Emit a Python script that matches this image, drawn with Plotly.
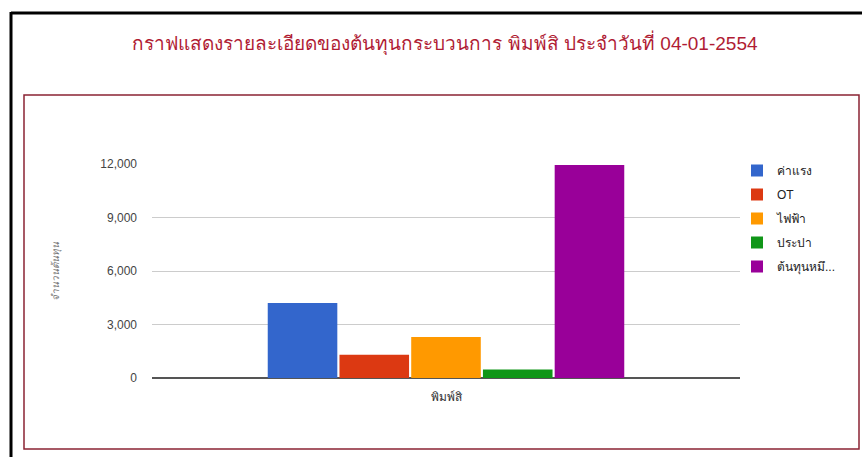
import plotly.graph_objects as go

# Cost breakdown for one process on a single day
category = ["พิมพ์สิ"]
series_names = ["ค่าแรง", "OT", "ไฟฟ้า", "ประปา", "ต้นทุนหมึ..."]
series_values = [4200, 1300, 2300, 480, 11950]
series_colors = ["#3366cc", "#dc3912", "#ff9900", "#109618", "#990099"]
y_ticks = [0, 3000, 6000, 9000, 12000]
y_tick_labels = ["0", "3,000", "6,000", "9,000", "12,000"]

W, H = 862, 457
L, R, T, B = 152, 740, 164, 378  # plot area in pixels


def px_x(x):
    return (x - L) / (R - L)


def px_y(y):
    return (B - y) / (B - T)


fig = go.Figure()
for name, val, col in zip(series_names, series_values, series_colors):
    fig.add_trace(go.Bar(x=category, y=[val], name=name, marker_color=col,
                         marker_line_width=0, legendgroup=name))

fig.update_layout(
    width=W, height=H,
    margin=dict(l=L, r=W - R, t=T, b=H - B, pad=0, autoexpand=False),
    paper_bgcolor="white", plot_bgcolor="white",
    font=dict(family="Liberation Sans, Arial, sans-serif", color="#444", size=12),
    barmode="group", bargap=0.39, bargroupgap=0.03,
    showlegend=True,
    title=dict(text="กราฟแสดงรายละเอียดของต้นทุนกระบวนการ พิมพ์สิ ประจำวันที่ 04-01-2554",
               x=445 / W, xanchor="center", y=1 - 43 / H, yanchor="middle",
               yref="container", xref="container",
               font=dict(size=19, color="#b01c34")),
    legend=dict(x=737 / W, xanchor="left", y=1 - 156 / H, yanchor="top",
                xref="container", yref="container",
                font=dict(size=12, color="#222"), itemwidth=30,
                traceorder="grouped", tracegroupgap=5,
                bgcolor="rgba(0,0,0,0)"),
    xaxis=dict(showgrid=False, showline=False, ticks="", zeroline=False,
               ticklabelstandoff=10,
               tickfont=dict(size=12, color="#333")),
    yaxis=dict(range=[0, 12000], tickvals=y_ticks, ticktext=y_tick_labels,
               showgrid=True, gridcolor="#cccccc", gridwidth=1,
               zeroline=True, zerolinecolor="#555555", zerolinewidth=2,
               showline=False, ticks="", ticklabelstandoff=14,
               tickfont=dict(size=12, color="#444"),
               title=dict(text="จำนวนต้นทุน", standoff=38,
                          font=dict(size=10, color="#777", style="italic"))),
)

# Outer black frame (top and left edges) and inner dark red frame
fig.add_shape(type="line", xref="paper", yref="paper",
              x0=px_x(11), y0=px_y(13), x1=px_x(862), y1=px_y(13),
              line=dict(color="black", width=3))
fig.add_shape(type="line", xref="paper", yref="paper",
              x0=px_x(11), y0=px_y(12), x1=px_x(11), y1=px_y(457),
              line=dict(color="black", width=3))
fig.add_shape(type="rect", xref="paper", yref="paper",
              x0=px_x(24), y0=px_y(95), x1=px_x(859), y1=px_y(449),
              line=dict(color="#8b2333", width=1.5), layer="below")

fig.write_html("out.html")
